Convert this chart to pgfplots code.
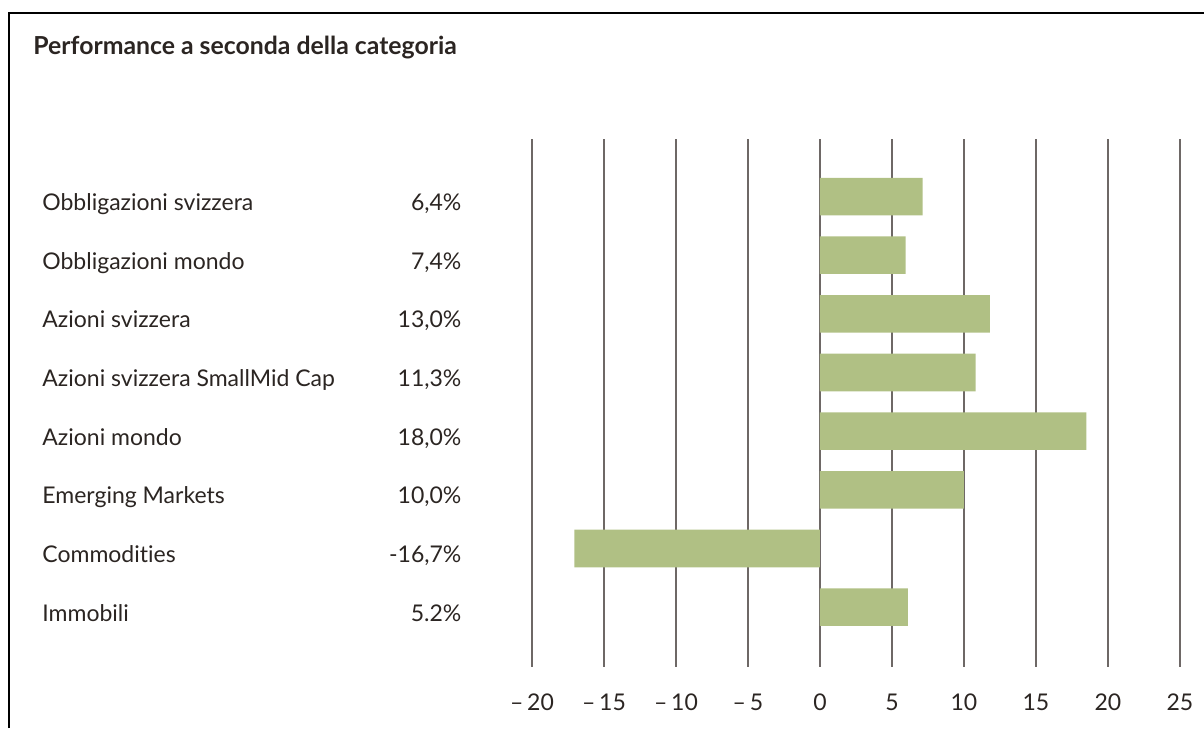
\documentclass[border=0pt]{standalone}
\usepackage{pgfplots}
\pgfplotsset{compat=1.18}
\usepackage{fontspec}
\setmainfont[Ligatures=NoCommon]{Lato}
\definecolor{barg}{HTML}{B0C084}
\definecolor{txt}{HTML}{2B2522}
\definecolor{gridc}{HTML}{6E6866}
\begin{document}
\begin{tikzpicture}
\path[use as bounding box] (0pt,0pt) rectangle (602pt,-364pt);
\draw[black, line width=1pt] (4.5pt,-364pt) -- (4.5pt,-6.5pt) -- (602pt,-6.5pt);
\node[anchor=base west, inner sep=0pt, font=\bfseries\fontsize{12.4}{14}\selectfont, text=txt] at (16.5pt,-27.3pt) {Performance a seconda della categoria};
\begin{axis}[
  at={(266pt,-333.5pt)}, anchor=south west,
  scale only axis, width=324pt, height=264pt,
  xmin=-20, xmax=25, ymin=-0.98, ymax=8.02,
  y dir=reverse,
  axis line style={draw=none},
  xmajorgrids, grid style={gridc, line width=0.7pt},
  major tick length=0pt, tick style={draw=none},
  xtick={-20,-15,...,25},
  xticklabels={\textendash\,20,\textendash\,15,\textendash\,10,\textendash\,5,0,5,10,15,20,25},
  xticklabel style={anchor=base, inner sep=0pt, yshift=-21.5pt, font=\fontsize{11.5}{13}\selectfont, text=txt},
  ytick={0,...,7},
  yticklabels={
    \makebox[209.5pt]{Obbligazioni svizzera\hfill 6,4\%},
    \makebox[209.5pt]{Obbligazioni mondo\hfill 7,4\%},
    \makebox[209.5pt]{Azioni svizzera\hfill 13,0\%},
    \makebox[209.5pt]{Azioni svizzera SmallMid Cap\hfill 11,3\%},
    \makebox[209.5pt]{Azioni mondo\hfill 18,0\%},
    \makebox[209.5pt]{Emerging Markets\hfill 10,0\%},
    \makebox[209.5pt]{Commodities\hfill -16,7\%},
    \makebox[209.5pt]{Immobili\hfill 5.2\%}},
  yticklabel style={anchor=base west, inner sep=0pt, xshift=-245pt, yshift=-7pt, font=\fontsize{11.5}{13}\selectfont, text=txt},
]
\addplot[xbar, fill=barg, draw=none, bar width=0.64] coordinates {
  (7.13,0) (5.95,1) (11.8,2) (10.8,3) (18.5,4) (10.0,5) (-17.05,6) (6.1,7)
};
\end{axis}
\end{tikzpicture}
\end{document}
